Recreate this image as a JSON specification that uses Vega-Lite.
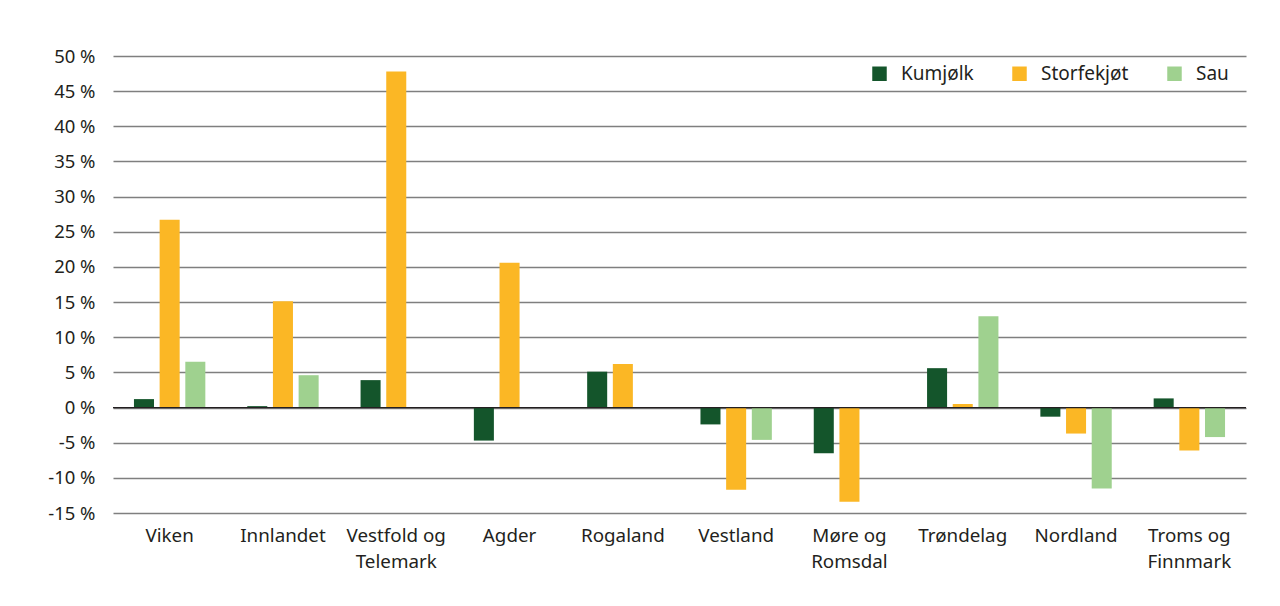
{
  "$schema": "https://vega.github.io/schema/vega-lite/v6.json",
  "width": 1133,
  "height": 457,
  "autosize": {"type": "none"},
  "padding": {"left": 113, "top": 56, "right": 34, "bottom": 93},
  "background": "white",
  "config": {
    "font": "Noto Sans",
    "view": {"stroke": null},
    "axis": {"labelFont": "Noto Sans", "labelColor": "#231f20", "labelFontSize": 17},
    "axisY": {"labelOverlap": false, "ticks": false, "domain": false, "labelPadding": 18, "labelFontSize": 18.5, "gridColor": "#7f7f7f", "gridWidth": 1.3, "gridOpacity": 1}
  },
  "data": {
    "values": [
      {"region": "Viken", "serie": "Kumjølk", "verdi": 1.2},
      {"region": "Viken", "serie": "Storfekjøt", "verdi": 26.7},
      {"region": "Viken", "serie": "Sau", "verdi": 6.5},
      {"region": "Innlandet", "serie": "Kumjølk", "verdi": 0.2},
      {"region": "Innlandet", "serie": "Storfekjøt", "verdi": 15.1},
      {"region": "Innlandet", "serie": "Sau", "verdi": 4.6},
      {"region": "Vestfold og Telemark", "serie": "Kumjølk", "verdi": 3.9},
      {"region": "Vestfold og Telemark", "serie": "Storfekjøt", "verdi": 47.8},
      {"region": "Agder", "serie": "Kumjølk", "verdi": -4.7},
      {"region": "Agder", "serie": "Storfekjøt", "verdi": 20.6},
      {"region": "Rogaland", "serie": "Kumjølk", "verdi": 5.1},
      {"region": "Rogaland", "serie": "Storfekjøt", "verdi": 6.2},
      {"region": "Vestland", "serie": "Kumjølk", "verdi": -2.4},
      {"region": "Vestland", "serie": "Storfekjøt", "verdi": -11.7},
      {"region": "Vestland", "serie": "Sau", "verdi": -4.6},
      {"region": "Møre og Romsdal", "serie": "Kumjølk", "verdi": -6.5},
      {"region": "Møre og Romsdal", "serie": "Storfekjøt", "verdi": -13.4},
      {"region": "Trøndelag", "serie": "Kumjølk", "verdi": 5.6},
      {"region": "Trøndelag", "serie": "Storfekjøt", "verdi": 0.5},
      {"region": "Trøndelag", "serie": "Sau", "verdi": 13.0},
      {"region": "Nordland", "serie": "Kumjølk", "verdi": -1.3},
      {"region": "Nordland", "serie": "Storfekjøt", "verdi": -3.7},
      {"region": "Nordland", "serie": "Sau", "verdi": -11.5},
      {"region": "Troms og Finnmark", "serie": "Kumjølk", "verdi": 1.3},
      {"region": "Troms og Finnmark", "serie": "Storfekjøt", "verdi": -6.1},
      {"region": "Troms og Finnmark", "serie": "Sau", "verdi": -4.2}
    ]
  },
  "layer": [
    {
      "mark": {"type": "bar"},
      "encoding": {
        "x": {
          "field": "region",
          "type": "nominal",
          "sort": null,
          "scale": {"paddingInner": 0.37, "paddingOuter": 0.185},
          "axis": {
            "title": null,
            "ticks": false,
            "domain": false,
            "labelAngle": 0,
            "labelPadding": 13,
            "labelFontSize": 18.8,
            "labelLineHeight": 26,
            "labelOverlap": false,
            "labelExpr": "indexof(datum.label, ' og ') > 0 ? [slice(datum.label, 0, indexof(datum.label, ' og ') + 3), slice(datum.label, indexof(datum.label, ' og ') + 4)] : datum.label"
          }
        },
        "xOffset": {
          "field": "serie",
          "type": "nominal",
          "sort": ["Kumjølk", "Storfekjøt", "Sau"],
          "scale": {"paddingInner": 0.22, "paddingOuter": 0}
        },
        "y": {
          "field": "verdi",
          "type": "quantitative",
          "scale": {"domain": [-15, 50], "nice": false, "zero": false},
          "axis": {
            "title": null,
            "values": [-15, -10, -5, 0, 5, 10, 15, 20, 25, 30, 35, 40, 45, 50],
            "labelExpr": "datum.value + ' %'"
          }
        },
        "color": {
          "field": "serie",
          "type": "nominal",
          "sort": ["Kumjølk", "Storfekjøt", "Sau"],
          "scale": {"domain": ["Kumjølk", "Storfekjøt", "Sau"], "range": ["#14552b", "#fbb725", "#9fd18f"]},
          "legend": {
            "title": null,
            "orient": "none",
            "legendX": 757,
            "legendY": 8,
            "direction": "horizontal",
            "symbolType": "square",
            "symbolSize": 210,
            "symbolStrokeWidth": 0,
            "labelFontSize": 19,
            "labelFont": "Noto Sans",
            "labelColor": "#231f20",
            "labelOffset": 12,
            "columnPadding": 36,
            "fillColor": "white"
          }
        }
      }
    },
    {
      "data": {"values": [{"y": 0}]},
      "mark": {"type": "rule", "color": "#231f20", "strokeWidth": 1.3},
      "encoding": {
        "y": {
          "field": "y",
          "type": "quantitative",
          "axis": {
            "title": null,
            "values": [-15, -10, -5, 0, 5, 10, 15, 20, 25, 30, 35, 40, 45, 50],
            "labelExpr": "datum.value + ' %'"
          }
        }
      }
    }
  ]
}
